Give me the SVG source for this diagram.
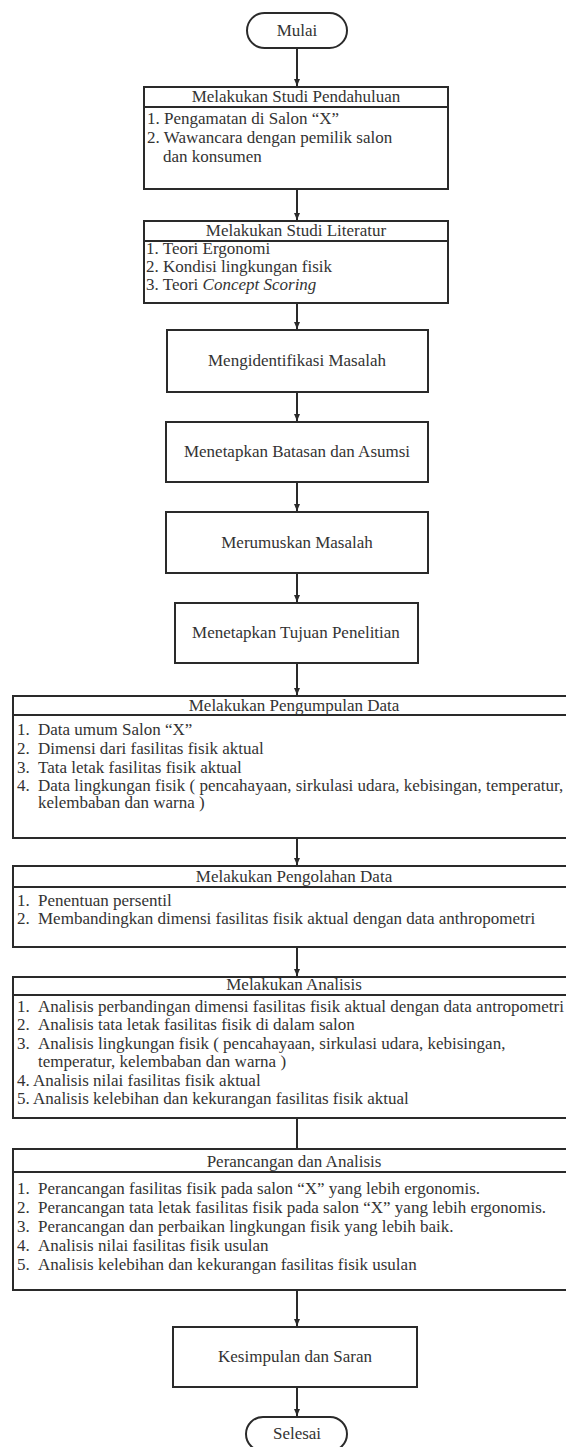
<svg xmlns="http://www.w3.org/2000/svg" width="566" height="1447" viewBox="0 0 566 1447">
<style>
.b{fill:#fff;stroke:#2a2a2a;stroke-width:2}
.d{stroke:#2a2a2a;stroke-width:2}
.t{font-family:"Liberation Serif","Times New Roman",serif;font-size:17px;fill:#333}
.c{text-anchor:middle}
.cn{stroke:#2a2a2a;stroke-width:2;fill:none}
</style>
<defs>
<marker id="ah" markerUnits="userSpaceOnUse" markerWidth="8" markerHeight="8" refX="7" refY="4" orient="auto">
<path d="M0,1 L7,4 L0,7 z" fill="#2a2a2a"/>
</marker>
</defs>
<rect width="566" height="1447" fill="#fff"/>
<g id="connectors">
<line class="cn" x1="297" y1="48" x2="297" y2="86" marker-end="url(#ah)"/>
<line class="cn" x1="297" y1="189" x2="297" y2="220" marker-end="url(#ah)"/>
<line class="cn" x1="297" y1="303" x2="297" y2="329" marker-end="url(#ah)"/>
<line class="cn" x1="297" y1="392" x2="297" y2="421" marker-end="url(#ah)"/>
<line class="cn" x1="297" y1="482" x2="297" y2="511" marker-end="url(#ah)"/>
<line class="cn" x1="297" y1="573" x2="297" y2="602" marker-end="url(#ah)"/>
<line class="cn" x1="297" y1="663" x2="297" y2="695" marker-end="url(#ah)"/>
<line class="cn" x1="297" y1="838" x2="297" y2="865" marker-end="url(#ah)"/>
<line class="cn" x1="297" y1="947" x2="297" y2="976" marker-end="url(#ah)"/>
<line class="cn" x1="297" y1="1118" x2="297" y2="1149"/>
<line class="cn" x1="297" y1="1290" x2="297" y2="1326" marker-end="url(#ah)"/>
<line class="cn" x1="297" y1="1387" x2="297" y2="1416" marker-end="url(#ah)"/>
</g>
<g id="mulai">
<rect class="b" x="247" y="13" width="100" height="35" rx="17.5"/>
<text class="t c" x="297" y="36">Mulai</text>
</g>
<g id="studi-pendahuluan">
<rect class="b" x="144" y="87" width="304" height="102"/>
<line class="d" x1="144" y1="107" x2="448" y2="107"/>
<text class="t c" x="296" y="102">Melakukan Studi Pendahuluan</text>
<text class="t" x="147" y="124">1. Pengamatan di Salon “X”</text>
<text class="t" x="147" y="143">2. Wawancara dengan pemilik salon</text>
<text class="t" x="163" y="162">dan konsumen</text>
</g>
<g id="studi-literatur">
<rect class="b" x="144" y="221" width="304" height="82"/>
<line class="d" x1="144" y1="241" x2="448" y2="241"/>
<text class="t c" x="296" y="236">Melakukan Studi Literatur</text>
<text class="t" x="146" y="254">1. Teori Ergonomi</text>
<text class="t" x="146" y="272">2. Kondisi lingkungan fisik</text>
<text class="t" x="146" y="290">3. Teori <tspan font-style="italic">Concept Scoring</tspan></text>
</g>
<g id="identifikasi">
<rect class="b" x="167" y="330" width="261" height="62"/>
<text class="t c" x="297" y="366">Mengidentifikasi Masalah</text>
</g>
<g id="batasan">
<rect class="b" x="166" y="422" width="262" height="60"/>
<text class="t c" x="297" y="457">Menetapkan Batasan dan Asumsi</text>
</g>
<g id="merumuskan">
<rect class="b" x="166" y="512" width="262" height="61"/>
<text class="t c" x="297" y="548">Merumuskan Masalah</text>
</g>
<g id="tujuan">
<rect class="b" x="175" y="603" width="243" height="60"/>
<text class="t c" x="296" y="638">Menetapkan Tujuan Penelitian</text>
</g>
<g id="pengumpulan">
<rect class="b" x="13" y="696" width="560" height="142"/>
<line class="d" x1="13" y1="715" x2="573" y2="715"/>
<text class="t c" x="294" y="711">Melakukan Pengumpulan Data</text>
<text class="t" x="17" y="735">1.</text><text class="t" x="38" y="735">Data umum Salon “X”</text>
<text class="t" x="17" y="754">2.</text><text class="t" x="38" y="754">Dimensi dari fasilitas fisik aktual</text>
<text class="t" x="17" y="773">3.</text><text class="t" x="38" y="773">Tata letak fasilitas fisik aktual</text>
<text class="t" x="17" y="791">4.</text><text class="t" x="38" y="791">Data lingkungan fisik ( pencahayaan, sirkulasi udara, kebisingan, temperatur,</text>
<text class="t" x="38" y="808">kelembaban dan warna )</text>
</g>
<g id="pengolahan">
<rect class="b" x="13" y="866" width="560" height="81"/>
<line class="d" x1="13" y1="887" x2="573" y2="887"/>
<text class="t c" x="294" y="882">Melakukan Pengolahan Data</text>
<text class="t" x="17" y="906">1.</text><text class="t" x="38" y="906">Penentuan persentil</text>
<text class="t" x="17" y="924">2.</text><text class="t" x="38" y="924">Membandingkan dimensi fasilitas fisik aktual dengan data anthropometri</text>
</g>
<g id="analisis">
<rect class="b" x="13" y="977" width="560" height="141"/>
<line class="d" x1="13" y1="995" x2="573" y2="995"/>
<text class="t c" x="294" y="990">Melakukan Analisis</text>
<text class="t" x="17" y="1012">1.</text><text class="t" x="38" y="1012">Analisis perbandingan dimensi fasilitas fisik aktual dengan data antropometri</text>
<text class="t" x="17" y="1030">2.</text><text class="t" x="38" y="1030">Analisis tata letak fasilitas fisik di dalam salon</text>
<text class="t" x="17" y="1049">3.</text><text class="t" x="38" y="1049">Analisis lingkungan fisik ( pencahayaan, sirkulasi udara, kebisingan,</text>
<text class="t" x="38" y="1067">temperatur, kelembaban dan warna )</text>
<text class="t" x="17" y="1086">4. Analisis nilai fasilitas fisik aktual</text>
<text class="t" x="17" y="1104">5. Analisis kelebihan dan kekurangan fasilitas fisik aktual</text>
</g>
<g id="perancangan">
<rect class="b" x="13" y="1149" width="560" height="141"/>
<line class="d" x1="13" y1="1172" x2="573" y2="1172"/>
<text class="t c" x="294" y="1167">Perancangan dan Analisis</text>
<text class="t" x="17" y="1194">1.</text><text class="t" x="38" y="1194">Perancangan fasilitas fisik pada salon “X” yang lebih ergonomis.</text>
<text class="t" x="17" y="1213">2.</text><text class="t" x="38" y="1213">Perancangan tata letak fasilitas fisik pada salon “X” yang lebih ergonomis.</text>
<text class="t" x="17" y="1232">3.</text><text class="t" x="38" y="1232">Perancangan dan perbaikan lingkungan fisik yang lebih baik.</text>
<text class="t" x="17" y="1251">4.</text><text class="t" x="38" y="1251">Analisis nilai fasilitas fisik usulan</text>
<text class="t" x="17" y="1270">5.</text><text class="t" x="38" y="1270">Analisis kelebihan dan kekurangan fasilitas fisik usulan</text>
</g>
<g id="kesimpulan">
<rect class="b" x="173" y="1327" width="244" height="60"/>
<text class="t c" x="295" y="1362">Kesimpulan dan Saran</text>
</g>
<g id="selesai">
<rect class="b" x="246" y="1417" width="101" height="34" rx="17"/>
<text class="t c" x="297" y="1439">Selesai</text>
</g>
</svg>
